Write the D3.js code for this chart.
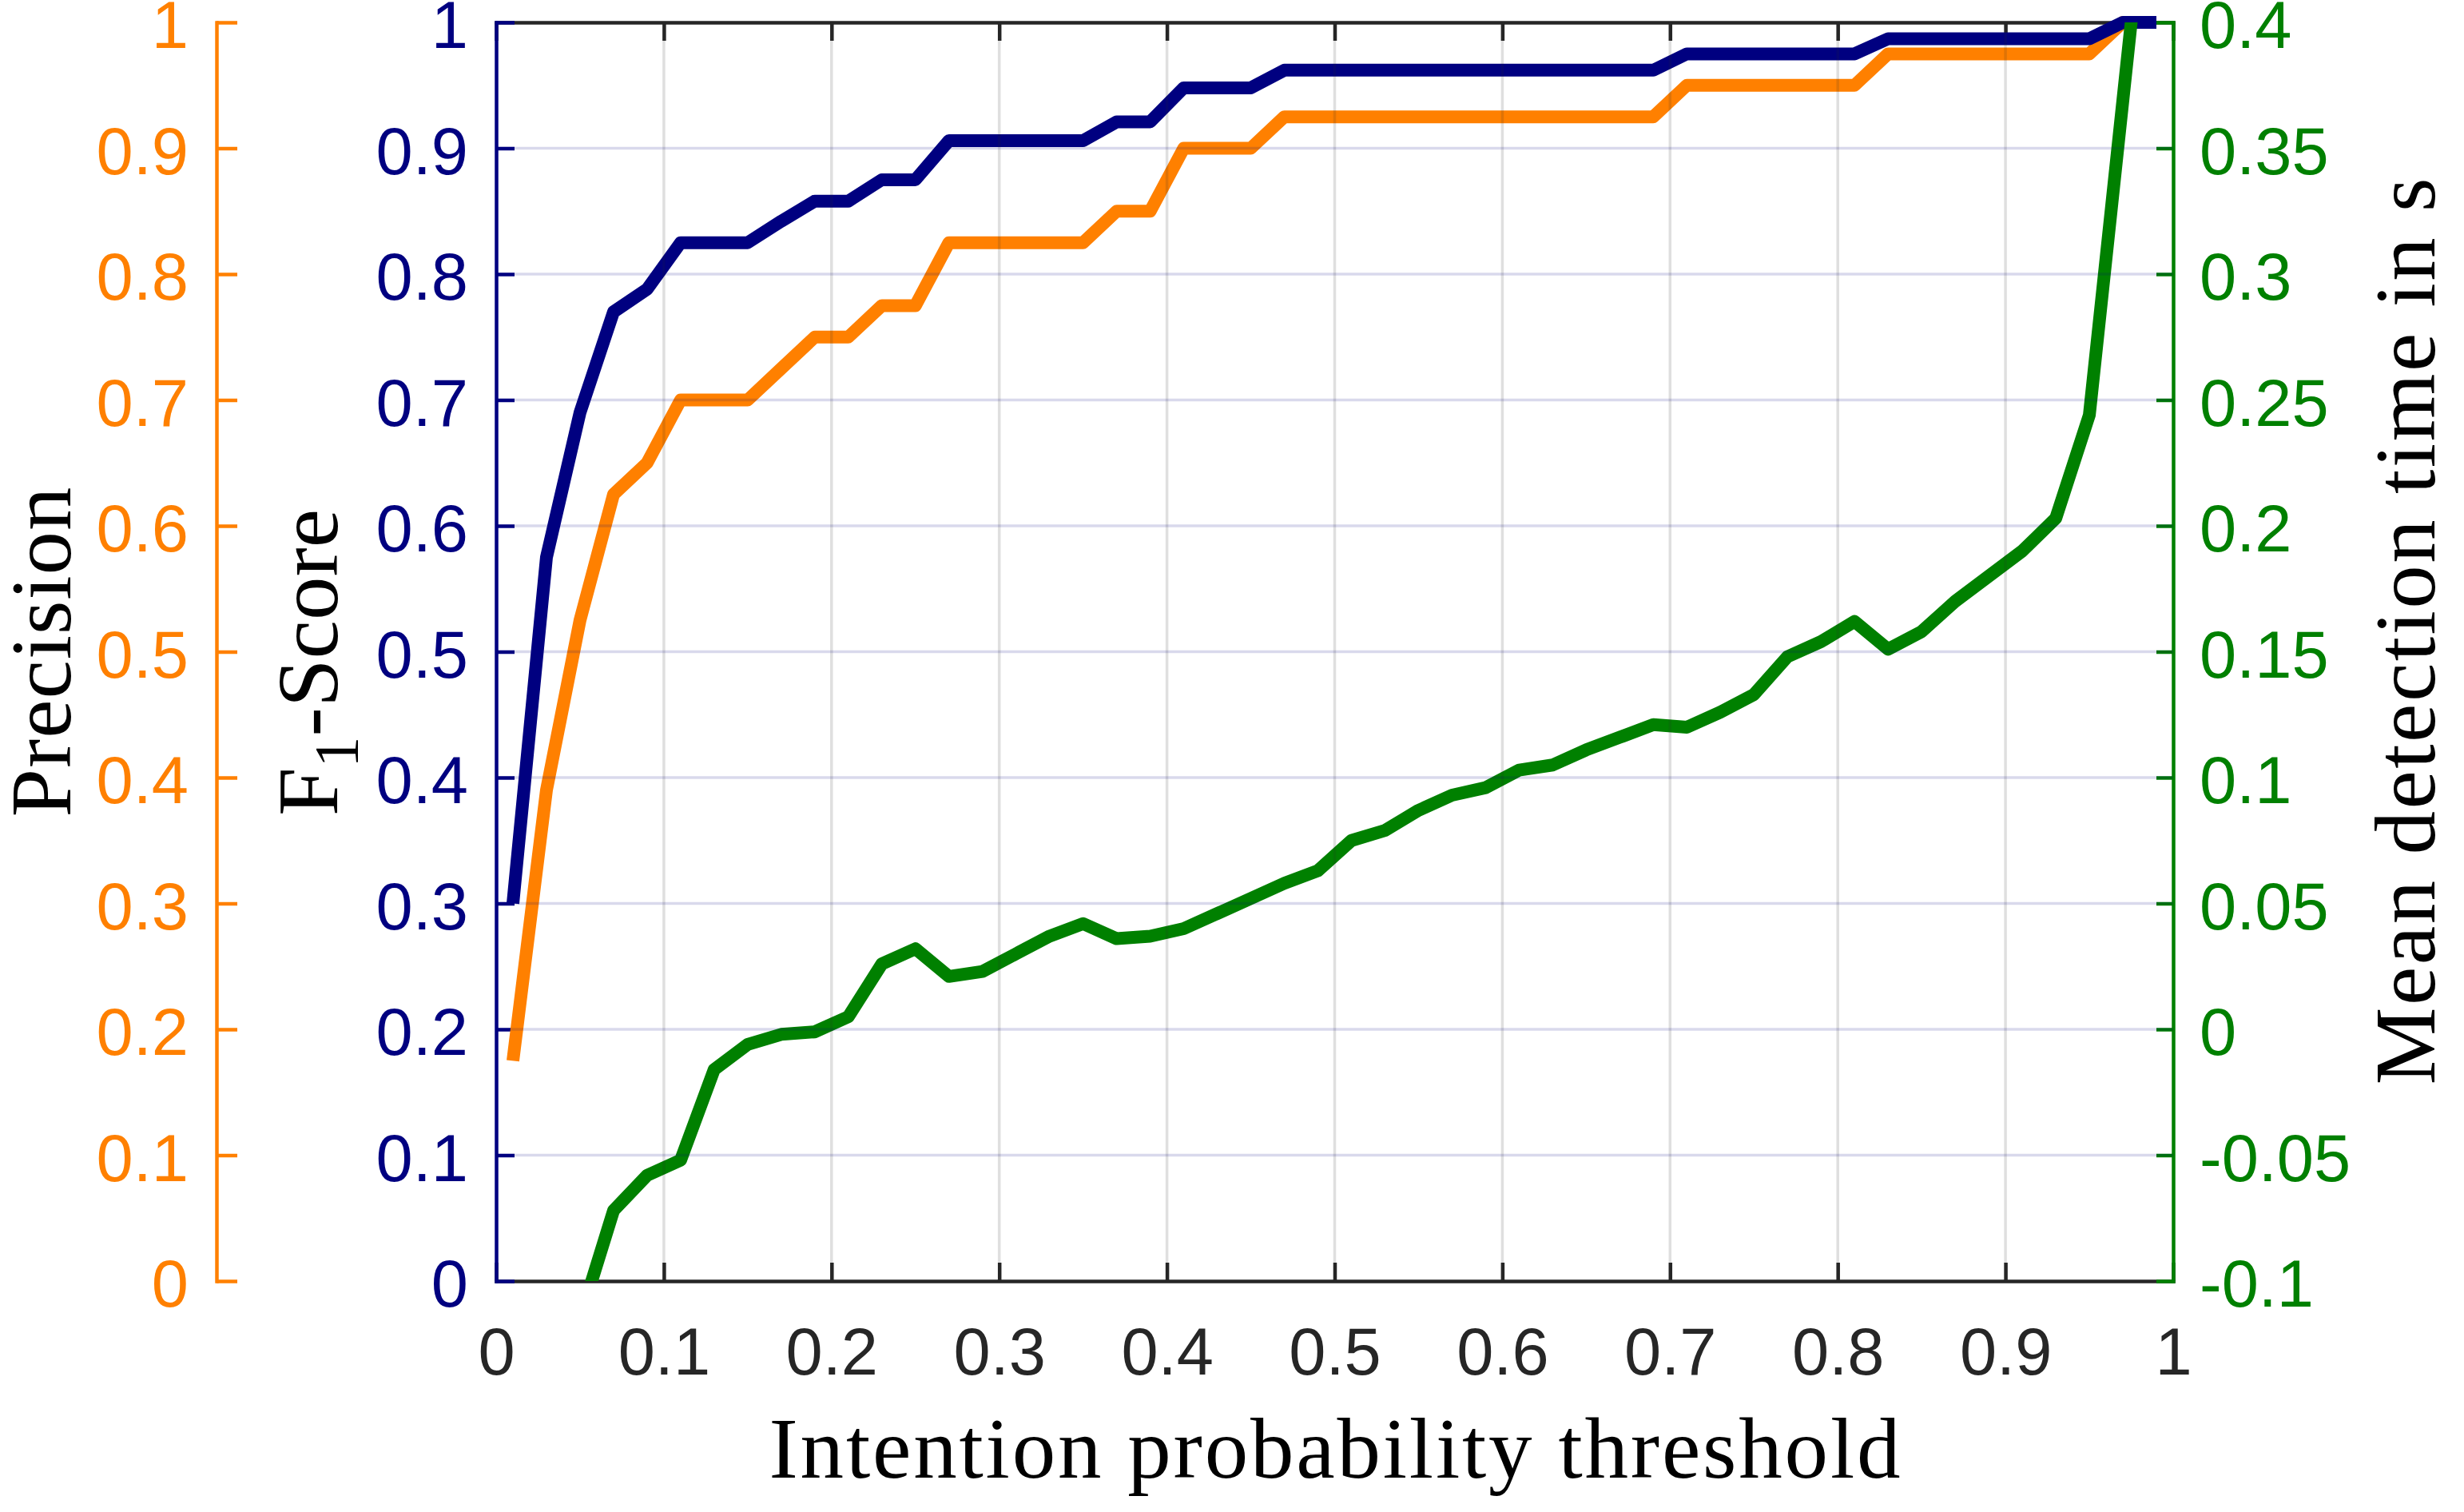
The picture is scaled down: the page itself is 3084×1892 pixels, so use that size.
<!DOCTYPE html>
<html>
<head>
<meta charset="utf-8">
<script src="https://cdn.jsdelivr.net/npm/d3@7"></script>
<style>
  body { margin: 0; background: #fff; }
  svg { display: block; }
</style>
</head>
<body>
<div id="chart"></div>
<script>
// threshold values along the x axis
var thresholds = [0.01, 0.03, 0.05, 0.07, 0.09, 0.11, 0.13, 0.15, 0.17, 0.19,
                  0.21, 0.23, 0.25, 0.27, 0.29, 0.31, 0.33, 0.35, 0.37, 0.39,
                  0.41, 0.43, 0.45, 0.47, 0.49, 0.51, 0.53, 0.55, 0.57, 0.59,
                  0.61, 0.63, 0.65, 0.67, 0.69, 0.71, 0.73, 0.75, 0.77, 0.79,
                  0.81, 0.83, 0.85, 0.87, 0.89, 0.91, 0.93, 0.95, 0.97, 0.99];
// F1-Score (navy, left inner axis)
var f1Score = [0.30, 0.575, 0.69, 0.77, 0.788, 0.825, 0.825, 0.825, 0.842, 0.858,
               0.858, 0.875, 0.875, 0.906, 0.906, 0.906, 0.906, 0.906, 0.921, 0.921,
               0.948, 0.948, 0.948, 0.962, 0.962, 0.962, 0.962, 0.962, 0.962, 0.962,
               0.962, 0.962, 0.962, 0.962, 0.962, 0.975, 0.975, 0.975, 0.975, 0.975,
               0.975, 0.987, 0.987, 0.987, 0.987, 0.987, 0.987, 0.987, 1.0, 1.0];
// Precision (orange, left outer axis)
var precision = [0.175, 0.39, 0.525, 0.625, 0.65, 0.70, 0.70, 0.70, 0.725, 0.75,
                 0.75, 0.775, 0.775, 0.825, 0.825, 0.825, 0.825, 0.825, 0.85, 0.85,
                 0.90, 0.90, 0.90, 0.925, 0.925, 0.925, 0.925, 0.925, 0.925, 0.925,
                 0.925, 0.925, 0.925, 0.925, 0.925, 0.95, 0.95, 0.95, 0.95, 0.95,
                 0.95, 0.975, 0.975, 0.975, 0.975, 0.975, 0.975, 0.975, 1.0, 1.0];
// Mean detection time in s (green, right axis); first points lie below the axis
var detectionTime = [null, null, -0.115, -0.072, -0.058, -0.052, -0.016, -0.006, -0.002, -0.001,
                     0.005, 0.026, 0.032, 0.021, 0.023, 0.030, 0.037, 0.042, 0.036, 0.037,
                     0.040, 0.046, 0.052, 0.058, 0.063, 0.075, 0.079, 0.087, 0.093, 0.096,
                     0.103, 0.105, 0.111, 0.116, 0.121, 0.120, 0.126, 0.133, 0.148, 0.154,
                     0.162, 0.151, 0.158, 0.170, 0.180, 0.190, 0.203, 0.244, 0.369, 0.494];

var xTicks = [0, 0.1, 0.2, 0.3, 0.4, 0.5, 0.6, 0.7, 0.8, 0.9, 1];
var scoreTicks = [0, 0.1, 0.2, 0.3, 0.4, 0.5, 0.6, 0.7, 0.8, 0.9, 1];
var timeTicks = [-0.1, -0.05, 0, 0.05, 0.1, 0.15, 0.2, 0.25, 0.3, 0.35, 0.4];
var gridTicks = [0.1, 0.2, 0.3, 0.4, 0.5, 0.6, 0.7, 0.8, 0.9];

window.onload = (function () {
    var W = 3084, H = 1892;
    var left = 621, right = 2720, top = 28, bottom = 1603;
    var precisionAxisX = 271;

    var dark = '#262626', navy = '#000080', orange = '#ff8000', green = '#008000';
    var sans = '"Liberation Sans", Arial, sans-serif';
    var serif = '"Liberation Serif", "Times New Roman", serif';

    var svg = d3.select('#chart').append('svg')
        .attr('width', W).attr('height', H);

    var x = d3.scaleLinear().domain([0, 1]).range([left, right]);
    var yScore = d3.scaleLinear().domain([0, 1]).range([bottom, top]);
    var yTime = d3.scaleLinear().domain([-0.1, 0.4]).range([bottom, top]);

    var fmt = function (d) { return String(d); };

    // common look of all the axes
    var styleAxis = function (g, color) {
        g.attr('color', color)
         .attr('font-size', 83)
         .attr('font-family', sans);
        g.select('.domain').attr('stroke-width', 4.5).attr('stroke-linecap', 'square');
        g.selectAll('.tick line').attr('stroke-width', 4.5);
    };
    // vertical axes: labels sit a touch below the tick, like the original
    var lowerLabels = function (g) {
        g.selectAll('.tick text').attr('dy', '0.38em');
    };

    // x axes at bottom and top of the box
    svg.append('g')
        .attr('transform', 'translate(0,' + bottom + ')')
        .call(d3.axisBottom(x).tickValues(xTicks).tickFormat(fmt)
              .tickSizeInner(-23).tickSizeOuter(0).tickPadding(58))
        .call(styleAxis, dark);
    svg.append('g')
        .attr('transform', 'translate(0,' + top + ')')
        .call(d3.axisTop(x).tickValues(xTicks).tickFormat('')
              .tickSizeInner(-23).tickSizeOuter(0))
        .call(styleAxis, dark);

    // precision axis (separate, far left)
    svg.append('g')
        .attr('transform', 'translate(' + precisionAxisX + ',0)')
        .call(d3.axisLeft(yScore).tickValues(scoreTicks).tickFormat(fmt)
              .tickSizeInner(-26).tickSizeOuter(0).tickPadding(35))
        .call(styleAxis, orange)
        .call(lowerLabels);

    // F1 axis on the left edge of the box
    svg.append('g')
        .attr('transform', 'translate(' + left + ',0)')
        .call(d3.axisLeft(yScore).tickValues(scoreTicks).tickFormat(fmt)
              .tickSizeInner(-23).tickSizeOuter(0).tickPadding(35))
        .call(styleAxis, navy)
        .call(lowerLabels);

    // detection time axis on the right edge
    svg.append('g')
        .attr('transform', 'translate(' + right + ',0)')
        .call(d3.axisRight(yTime).tickValues(timeTicks).tickFormat(fmt)
              .tickSizeInner(-21).tickSizeOuter(0).tickPadding(33))
        .call(styleAxis, green)
        .call(lowerLabels);

    // clip for the detection time curve, which runs out of the box
    svg.append('clipPath').attr('id', 'box')
        .append('rect')
        .attr('x', left).attr('y', top)
        .attr('width', right - left).attr('height', bottom - top);

    var series = [
        {values: precision, scale: yScore, color: orange, clip: false},
        {values: f1Score, scale: yScore, color: navy, clip: false},
        {values: detectionTime, scale: yTime, color: green, clip: true}
    ];

    series.forEach(function (s) {
        var pts = thresholds.map(function (t, i) { return [t, s.values[i]]; });
        var line = d3.line()
            .defined(function (d) { return d[1] !== null; })
            .x(function (d) { return x(d[0]); })
            .y(function (d) { return s.scale(d[1]); });
        svg.append('path')
            .datum(pts)
            .attr('d', line)
            .attr('fill', 'none')
            .attr('stroke', s.color)
            .attr('stroke-width', 16)
            .attr('stroke-linejoin', 'round')
            .attr('clip-path', s.clip ? 'url(#box)' : null);
    });

    // grid drawn on top, semi-transparent
    var grid = svg.append('g');
    grid.selectAll('line.v').data(gridTicks).enter().append('line')
        .attr('x1', function (d) { return x(d); })
        .attr('x2', function (d) { return x(d); })
        .attr('y1', top).attr('y2', bottom)
        .attr('stroke', 'rgba(38,38,38,0.15)').attr('stroke-width', 3.5);
    grid.selectAll('line.h').data(gridTicks).enter().append('line')
        .attr('y1', function (d) { return yScore(d); })
        .attr('y2', function (d) { return yScore(d); })
        .attr('x1', left).attr('x2', right)
        .attr('stroke', 'rgba(0,0,128,0.15)').attr('stroke-width', 3.5);

    // axis titles
    svg.append('text')
        .attr('x', (left + right) / 2).attr('y', 1849)
        .attr('text-anchor', 'middle')
        .attr('font-family', serif).attr('font-size', 109)
        .attr('textLength', 1416).attr('lengthAdjust', 'spacing')
        .text('Intention probability threshold');

    svg.append('text')
        .attr('transform', 'translate(88,816) rotate(-90)')
        .attr('text-anchor', 'middle')
        .attr('font-family', serif).attr('font-size', 109)
        .attr('textLength', 413).attr('lengthAdjust', 'spacing')
        .text('Precision');

    var f1 = svg.append('text')
        .attr('transform', 'translate(422,829) rotate(-90)')
        .attr('text-anchor', 'middle')
        .attr('font-family', serif).attr('font-size', 109);
    f1.append('tspan').text('F');
    f1.append('tspan').attr('font-size', 78).attr('dy', 25).text('1');
    f1.append('tspan').attr('dy', -25).text('-Score');

    svg.append('text')
        .attr('transform', 'translate(3047,790) rotate(-90)')
        .attr('text-anchor', 'middle')
        .attr('font-family', serif).attr('font-size', 109)
        .attr('textLength', 1135).attr('lengthAdjust', 'spacing')
        .text('Mean detection time in s');
});
</script>
</body>
</html>
